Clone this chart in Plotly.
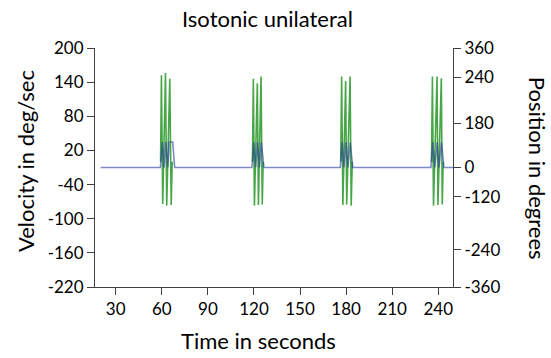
import plotly.graph_objects as go

# ---- data ----
# Velocity (deg/sec), left axis; None separates the movement bursts
vel_time = [59.2, 59.75, 60.6, 62.4, 63.2, 65.2, 66.1, 66.8, None,
            119.0, 119.6, 120.3, 122.2, 122.9, 124.6, 125.4, 126.0, None,
            176.5, 177.1, 177.9, 179.7, 180.4, 182.6, 183.3, 184.0, None,
            235.6, 236.2, 236.9, 239.2, 239.8, 242.0, 242.6, 243.2]
vel_values = [0, 152, -74, 156, -77, 146, -76, 0, None,
              0, 146, -77, 138, -76, 150, -75, 0, None,
              0, 150, -76, 142, -75, 150, -77, 0, None,
              0, 150, -77, 150, -76, 147, -75, 0]

# Position (degrees), right axis
pos_time = [20.2, 59.1, 60.3, 61.5, 62.6, 63.9, 64.9, 65.8, 67.1, 68.4,
            118.7, 119.9, 121.1, 122.3, 123.6, 124.8, 126.5,
            176.2, 177.4, 178.6, 179.9, 181.2, 182.7, 184.3,
            235.2, 236.4, 237.7, 239.3, 240.5, 242.1, 243.7, 250.0]
pos_values = [0, 0, 77, 0, 77, 0, 77, 77, 77, 0,
              0, 76, 0, 76, 0, 76, 0,
              0, 76, 0, 76, 0, 76, 0,
              0, 76, 0, 76, 0, 76, 0, 0]

x_ticks = [30, 60, 90, 120, 150, 180, 210, 240]
left_ticks = [200, 140, 80, 20, -40, -100, -160, -220]
left_tick_labels = ["200", "140", "80", "20", "-40", "-100", "-160", "-220"]
right_tick_labels = ["360", "240", "180", "0", "-120", "-240", "-360"]
right_tick_values = [360, 272, 133, 0, -88, -248, -360]

FONT = "Lato, 'Open Sans', sans-serif"
TITLE_SIZE = 22
TICK_SIZE = 17

fig = go.Figure()
fig.add_trace(go.Scatter(
    x=vel_time, y=vel_values, mode="lines", yaxis="y",
    line=dict(color="rgba(40,150,40,0.85)", width=1.6),
    connectgaps=False, showlegend=False, hoverinfo="skip"))
fig.add_trace(go.Scatter(
    x=pos_time, y=pos_values, mode="lines", yaxis="y2",
    line=dict(color="rgba(40,60,160,0.6)", width=1.6),
    showlegend=False, hoverinfo="skip"))

axis_common = dict(showgrid=False, zeroline=False, showline=True,
                   linecolor="#404040", linewidth=1, ticks="outside",
                   ticklen=7, tickcolor="#404040",
                   tickfont=dict(family=FONT, size=TICK_SIZE, color="#000"))

fig.update_layout(
    width=551, height=358,
    margin=dict(l=95, r=98, t=48, b=71, autoexpand=False),
    paper_bgcolor="white", plot_bgcolor="white",
    xaxis=dict(range=[16.5, 249.6], tickvals=x_ticks, **axis_common),
    yaxis=dict(range=[-220, 200], tickvals=left_ticks,
               ticktext=left_tick_labels, **axis_common),
    yaxis2=dict(range=[-360, 360], tickvals=right_tick_values,
                ticktext=right_tick_labels, overlaying="y", side="right",
                **axis_common),
    annotations=[
        dict(text="Isotonic unilateral", xref="paper", yref="paper",
             x=0.483, y=1.125, xanchor="center", yanchor="middle",
             showarrow=False,
             font=dict(family=FONT, size=TITLE_SIZE, color="#000")),
        dict(text="Velocity in deg/sec", xref="paper", yref="paper",
             x=-0.1955, y=0.527, xanchor="center", yanchor="middle",
             textangle=-90, showarrow=False,
             font=dict(family=FONT, size=TITLE_SIZE, color="#000")),
        dict(text="Position in degrees", xref="paper", yref="paper",
             x=1.235, y=0.498, xanchor="center", yanchor="middle",
             textangle=90, showarrow=False,
             font=dict(family=FONT, size=TITLE_SIZE, color="#000")),
        dict(text="Time in seconds", xref="paper", yref="paper",
             x=0.458, y=-0.225, xanchor="center", yanchor="middle",
             showarrow=False,
             font=dict(family=FONT, size=TITLE_SIZE, color="#000")),
    ],
)

fig.write_html(
    "out.html",
    config={"displayModeBar": False},
    post_script="document.body.style.margin='0';"
                "document.body.style.padding='0';"
                "document.body.style.overflow='hidden';")
